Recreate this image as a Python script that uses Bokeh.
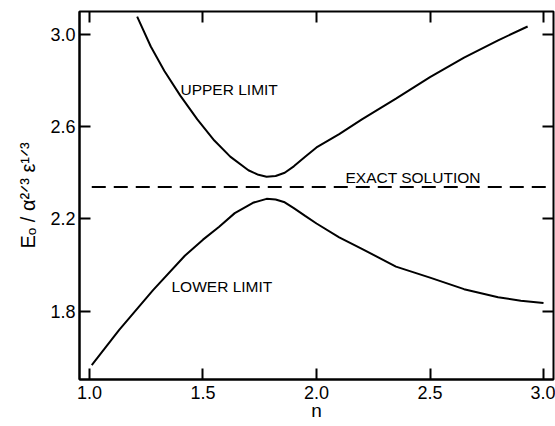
from bokeh.plotting import figure
from bokeh.models import Range1d, LinearAxis, Label, FixedTicker, PrintfTickFormatter
from bokeh.embed import file_html
from bokeh.resources import INLINE

# ---- data ----
upper_n = [1.21, 1.27, 1.33, 1.40, 1.475, 1.55, 1.62, 1.70, 1.74, 1.78, 1.82, 1.86,
           1.90, 1.95, 2.00, 2.10, 2.20, 2.35, 2.50, 2.65, 2.80, 2.93]
upper_v = [3.078, 2.948, 2.842, 2.735, 2.632, 2.540, 2.470, 2.411, 2.393, 2.383, 2.386, 2.40,
           2.428, 2.47, 2.51, 2.568, 2.632, 2.722, 2.815, 2.90, 2.975, 3.035]
lower_n = [1.01, 1.13, 1.28, 1.42, 1.50, 1.57, 1.64, 1.72, 1.78, 1.82, 1.86, 1.90,
           1.95, 2.00, 2.10, 2.20, 2.35, 2.50, 2.65, 2.80, 2.90, 3.00]
lower_v = [1.565, 1.717, 1.891, 2.04, 2.11, 2.165, 2.225, 2.27, 2.287, 2.284, 2.272, 2.247,
           2.213, 2.18, 2.12, 2.07, 1.993, 1.945, 1.895, 1.86, 1.845, 1.835]
exact_n = [1.01, 3.02]
exact_v = [2.338, 2.338]
x_ticks = [1.0, 1.5, 2.0, 2.5, 3.0]
y_ticks = [1.8, 2.2, 2.6, 3.0]
y_label = "Eₒ / α²ᐟ³ ε¹ᐟ³"
x_label = "n"

X0, X1 = 0.956, 3.044
Y0, Y1 = 1.503, 3.100

FONT = "Liberation Sans"
FL, FT, FR, FB = 79, 11, 553, 379  # frame edges in page pixels

p = figure(frame_width=FR - FL, frame_height=FB - FT, output_backend="svg", toolbar_location=None,
           x_range=Range1d(X0, X1), y_range=Range1d(Y0, Y1),
           min_border_left=FL, min_border_right=555 - FR, min_border_top=FT,
           min_border_bottom=426 - FB)
p.background_fill_color = "white"
p.border_fill_color = "white"
p.outline_line_color = "black"
p.outline_line_width = 2
p.grid.visible = False

def style_axis(ax, ticks, show_labels):
    ax.ticker = FixedTicker(ticks=ticks)
    ax.formatter = PrintfTickFormatter(format="%.1f")
    ax.major_tick_in = 11
    ax.major_tick_out = 0
    ax.minor_tick_line_color = None
    ax.major_tick_line_color = "black"
    ax.major_tick_line_width = 2
    ax.axis_line_color = "black"
    ax.axis_line_width = 2
    ax.major_label_text_font = FONT
    ax.major_label_text_color = "black"
    ax.major_label_text_font_size = "18px"
    if not show_labels:
        ax.major_label_overrides = {t: "" for t in ticks}
        ax.major_label_standoff = 0
        ax.axis_line_color = None

style_axis(p.xaxis[0], x_ticks, True)
style_axis(p.yaxis[0], y_ticks, True)
p.xaxis[0].major_label_standoff = 6
p.yaxis[0].major_label_standoff = 4
for ax, lab, std, fs in ((p.xaxis[0], x_label, -2, "19px"), (p.yaxis[0], y_label, 8, "20px")):
    ax.axis_label = lab
    ax.axis_label_text_font = FONT
    ax.axis_label_text_font_style = "normal"
    ax.axis_label_text_font_size = fs
    ax.axis_label_standoff = std
    ax.axis_label_text_color = "black"

# mirrored inward ticks on the top and right edges
top = LinearAxis(fixed_location=Y1)
style_axis(top, x_ticks, False)
p.add_layout(top, "above")
right = LinearAxis(fixed_location=X1)
style_axis(right, y_ticks, False)
p.add_layout(right, "right")

# curves
p.line(upper_n, upper_v, line_color="black", line_width=2)
p.line(lower_n, lower_v, line_color="black", line_width=2)
p.line(exact_n, exact_v, line_color="black", line_width=2, line_dash="14 8")

def nx(px):
    return X0 + (px - FL) * (X1 - X0) / (FR - FL)

def vy(py):
    return Y0 + (FB - py) * (Y1 - Y0) / (FB - FT)

def txt(px, py, s, size="15.5px"):
    p.add_layout(Label(x=nx(px), y=vy(py), text=s, text_font=FONT, text_font_size=size,
                       text_color="black", text_align="left", text_baseline="alphabetic"))

txt(180, 89, "UPPER LIMIT")
txt(345, 177, "EXACT SOLUTION")
txt(171, 286, "LOWER LIMIT")

open("out.html", "w").write(file_html(p, INLINE))
